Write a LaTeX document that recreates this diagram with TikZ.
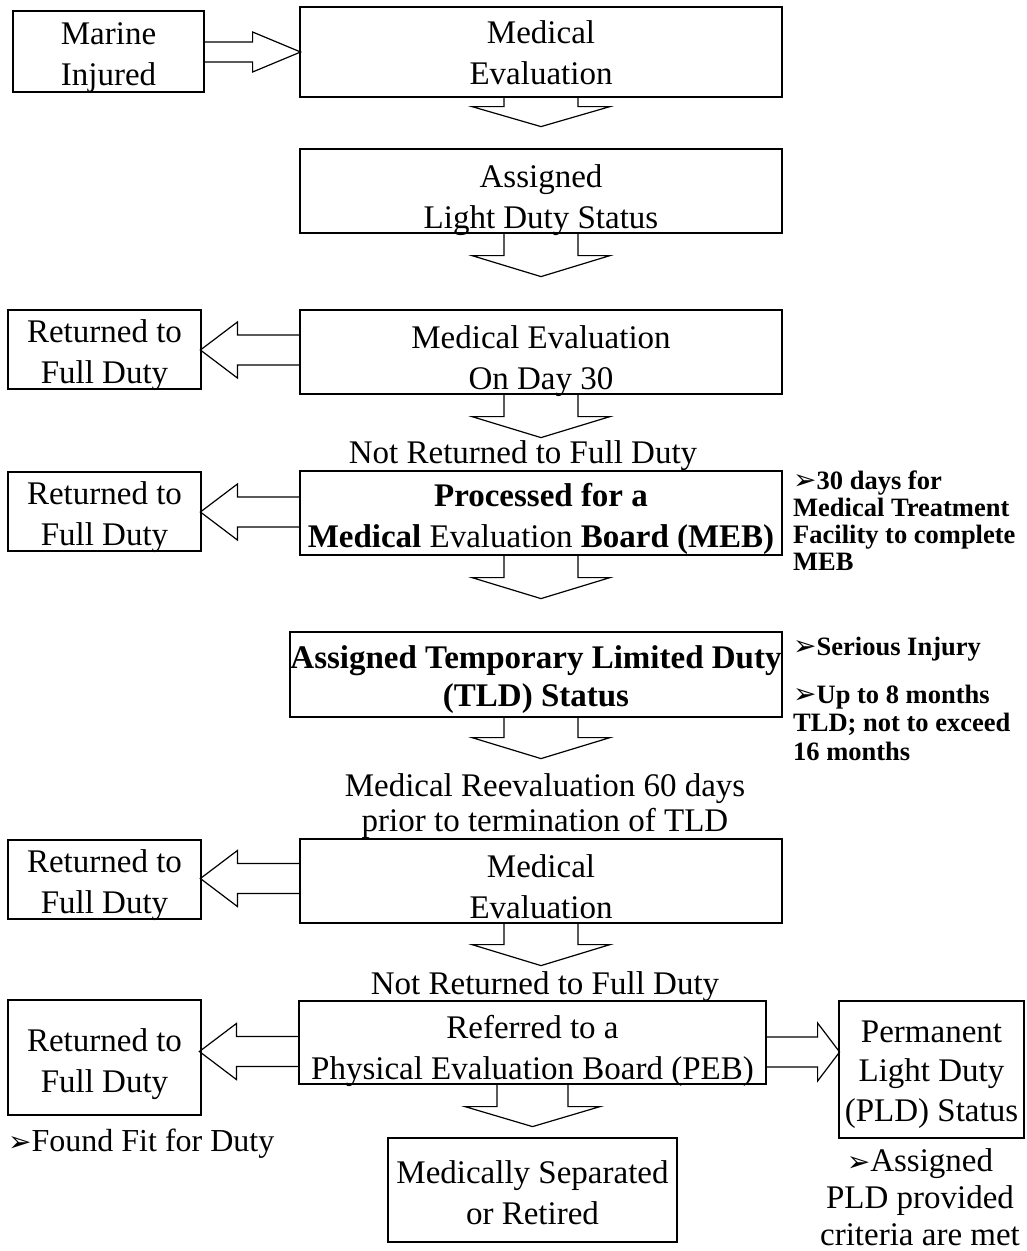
\documentclass[tikz,border=0pt]{standalone}
\usepackage{fontspec}
\setmainfont{Liberation Serif}
\newfontfamily\dejavu{DejaVu Sans}
\usetikzlibrary{calc}
\newcommand\bul{{\dejavu\fontsize{28}{28}\selectfont ➢}}
\newcommand\dnarr[6]{\draw[barrow] ([xshift=#2pt-#4pt]#1.south) -- ++(0,#3) -- ++({#4-#5},0) -- ++(#5,#6) -- ++(#5,-#6) -- ++({#4-#5},0) -- ++(0,-#3);}
\newcommand\lfarr[6]{\draw[barrow] ([yshift=#2pt+#4pt]#1.west) -- ++(-#3,0) -- ++(0,{#4-#5}) -- ++(-#6,#5) -- ++(#6,#5) -- ++(0,{#4-#5}) -- ++(#3,0);}
\newcommand\rtarr[6]{\draw[barrow] ([yshift=#2pt+#4pt]#1.east) -- ++(#3,0) -- ++(0,{#4-#5}) -- ++(#6,#5) -- ++(-#6,#5) -- ++(0,{#4-#5}) -- ++(-#3,0);}
\tikzset{
  box/.style={draw, line width=1.2pt, inner sep=0pt},
  barrow/.style={line width=1.2pt, line join=miter},
  lbl/.style={inner sep=0pt, align=center, anchor=base, font=\fontsize{33}{40.5}\selectfont},
  note/.style={inner sep=0pt, align=left, anchor=base west, font=\bfseries\fontsize{26.5}{27}\selectfont},
}
\begin{document}
\begin{tikzpicture}[x=1pt,y=-1pt]
\useasboundingbox[fill=white] (0,0) rectangle (1027,1251);
% boxes
\node[box, minimum width=191pt, minimum height=81pt] (marine) at (108.5,51.5) {};
\node[box, minimum width=482pt, minimum height=90pt] (medeval1) at (541,52) {};
\node[box, minimum width=482pt, minimum height=84pt] (light) at (541,191) {};
\node[box, minimum width=482pt, minimum height=84pt] (day30) at (541,352) {};
\node[box, minimum width=193pt, minimum height=79pt] (ret1) at (104.5,349.5) {};
\node[box, minimum width=482pt, minimum height=84pt] (meb) at (541,513) {};
\node[box, minimum width=193pt, minimum height=79pt] (ret2) at (104.5,511.5) {};
\node[box, minimum width=492pt, minimum height=85pt] (tld) at (536,674.5) {};
\node[box, minimum width=482pt, minimum height=84pt] (medeval3) at (541,881) {};
\node[box, minimum width=193pt, minimum height=79pt] (ret3) at (104.5,879.5) {};
\node[box, minimum width=467pt, minimum height=83pt] (peb) at (532.5,1042.5) {};
\node[box, minimum width=193pt, minimum height=115pt] (ret4) at (104.5,1057.5) {};
\node[box, minimum width=185pt, minimum height=137pt] (pld) at (931.5,1069.5) {};
\node[box, minimum width=289pt, minimum height=104pt] (sep) at (532.5,1190) {};
% box texts (anchored at the baseline of the last line)
\node[lbl] (marinet) at (108.5,85) {Marine\\Injured};
\node[lbl] (medeval1t) at (541,84) {Medical\\Evaluation};
\node[lbl] (lightt) at (541,228) {Assigned\\Light Duty Status};
\node[lbl] (day30t) at (541,389) {Medical Evaluation\\On Day 30};
\node[lbl] (ret1t) at (104.5,383) {Returned to\\Full Duty};
\node[lbl] (mebt) at (541,547) {\textbf{Processed for a}\\\textbf{Medical} Evaluation \textbf{Board (MEB)}};
\node[lbl] (ret2t) at (104.5,545) {Returned to\\Full Duty};
\node[lbl, font=\fontsize{33}{37.5}\selectfont] (tldt) at (536,706) {\textbf{Assigned Temporary Limited Duty}\\\textbf{(TLD) Status}};
\node[lbl] (medeval3t) at (541,918) {Medical\\Evaluation};
\node[lbl] (ret3t) at (104.5,913) {Returned to\\Full Duty};
\node[lbl] (pebt) at (532.5,1079) {Referred to a\\Physical Evaluation Board (PEB)};
\node[lbl] (ret4t) at (104.5,1092) {Returned to\\Full Duty};
\node[lbl, font=\fontsize{33}{39.5}\selectfont] (pldt) at (931.5,1121) {Permanent\\Light Duty\\(PLD) Status};
\node[lbl] (sept) at (532.5,1224) {Medically Separated\\or Retired};
% labels
\node[lbl] (nr1) at (523,463) {Not Returned to Full Duty};
\node[lbl, font=\fontsize{33}{35}\selectfont] (reeval) at (545,831) {Medical Reevaluation 60 days\\prior to termination of TLD};
\node[lbl] (nr2) at (545,994) {Not Returned to Full Duty};
\node[note] (n1) at (793,570) {\bul30 days for\\Medical Treatment\\Facility to complete\\MEB};
\node[note] (n2) at (793,655) {\bul Serious Injury};
\node[note, font=\bfseries\fontsize{26.5}{28.5}\selectfont] (n3) at (793,760) {\bul Up to 8 months\\TLD; not to exceed\\16 months};
\node[lbl, anchor=base west, font=\fontsize{32}{36}\selectfont] (n4) at (8,1151) {\bul Found Fit for Duty};
\node[lbl, font=\fontsize{33}{37}\selectfont] (n5) at (920,1245) {\bul Assigned\\PLD provided\\criteria are met};
% block arrows
\rtarr{marine}{-0.5}{48}{10}{20}{48}
\dnarr{medeval1}{0}{9}{37}{69}{20}
\dnarr{light}{0}{22}{37}{69}{21}
\dnarr{day30}{0}{22}{37}{69}{21}
\dnarr{meb}{0}{22}{37}{69}{21}
\dnarr{tld}{5}{20}{37}{69}{21}
\dnarr{medeval3}{0}{21}{37}{69}{21}
\dnarr{peb}{0}{22}{35.5}{67.5}{20}
\lfarr{day30}{2}{62}{15}{28}{37}
\lfarr{meb}{1}{62}{15}{28}{37}
\lfarr{medeval3}{2.5}{62}{15}{28}{37}
\lfarr{peb}{-9}{62}{15}{28}{37}
\rtarr{peb}{-9.5}{51}{15}{29}{22}
\end{tikzpicture}
\end{document}
